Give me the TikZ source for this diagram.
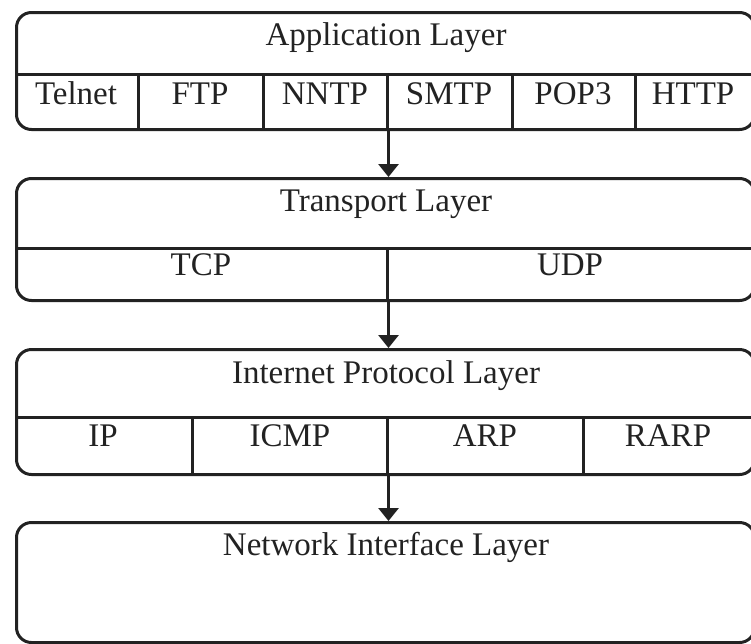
\documentclass[tikz,border=0pt]{standalone}
\usepackage{fontspec}
\setmainfont{Liberation Serif}
\usetikzlibrary{arrows.meta}
\definecolor{ink}{HTML}{222222}
\tikzset{
  layerbox/.style={draw=ink, line width=3pt, rounded corners=15pt, inner sep=0pt, anchor=north west},
  sep/.style={draw=ink, line width=3pt},
  lbl/.style={anchor=base, inner sep=0pt, text=ink, font=\fontsize{33}{40}\selectfont},
  flow/.style={draw=ink, line width=3pt, -{Triangle[width=20pt,length=13pt]}},
}
\begin{document}
\begin{tikzpicture}[x=1pt, y=-1pt]
\useasboundingbox (0,0) rectangle (751,643);
\clip (0,0) rectangle (751,643);

% four layer frames
\node[layerbox, minimum width=738pt, minimum height=117pt] (app) at (15,11) {};
\node[layerbox, minimum width=738pt, minimum height=122pt] (tra) at (15,177) {};
\node[layerbox, minimum width=738pt, minimum height=125pt] (ipl) at (15,348) {};
\node[layerbox, minimum width=738pt, minimum height=120pt] (net) at (15,521) {};

% application layer: header rule and protocol cells
\draw[sep] (15,74) -- (753,74);
\foreach \x in {138,263,387,512,635} \draw[sep] (\x,74) -- (\x,128);
\node[lbl] (appT) at (386,45) {Application Layer};
\node[lbl] (telnet) at (76,104) {Telnet};
\node[lbl] (ftp) at (200,104) {FTP};
\node[lbl] (nntp) at (325,104) {NNTP};
\node[lbl] (smtp) at (449,104) {SMTP};
\node[lbl] (pop) at (573,104) {POP3};
\node[lbl] (http) at (693,104) {HTTP};

% transport layer
\draw[sep] (15,248) -- (753,248);
\draw[sep] (387,248) -- (387,299);
\node[lbl] (traT) at (386,211) {Transport Layer};
\node[lbl] (tcp) at (201,275) {TCP};
\node[lbl] (udp) at (570,275) {UDP};

% internet protocol layer
\draw[sep] (15,417) -- (753,417);
\foreach \x in {192,387,583} \draw[sep] (\x,417) -- (\x,473);
\node[lbl] (iplT) at (386,383) {Internet Protocol Layer};
\node[lbl] (ip) at (103,446) {IP};
\node[lbl] (icmp) at (290,446) {ICMP};
\node[lbl] (arp) at (485,446) {ARP};
\node[lbl] (rarp) at (668,446) {RARP};

% network interface layer
\node[lbl] (netT) at (386,555) {Network Interface Layer};

% downward links between layers
\draw[flow] ([xshift=3pt]app.south) -- ([xshift=3pt]tra.north);
\draw[flow] ([xshift=3pt]tra.south) -- ([xshift=3pt]ipl.north);
\draw[flow] ([xshift=3pt]ipl.south) -- ([xshift=3pt]net.north);
\end{tikzpicture}
\end{document}
